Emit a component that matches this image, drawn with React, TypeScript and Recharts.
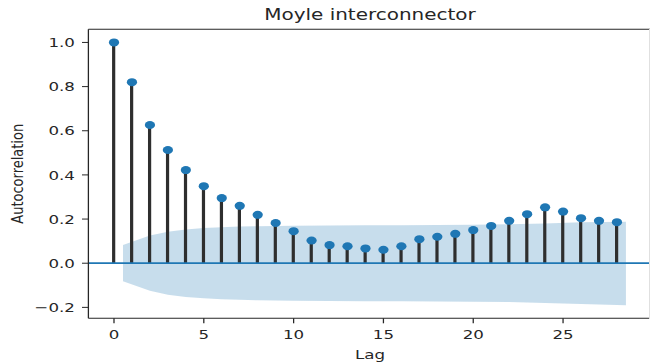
import React from 'react';
import {
  ComposedChart,
  Bar,
  Scatter,
  Area,
  XAxis,
  YAxis,
  ReferenceLine
} from 'recharts';

// autocorrelation per lag
const lags = [0, 1, 2, 3, 4, 5, 6, 7, 8, 9, 10, 11, 12, 13, 14, 15, 16, 17, 18, 19, 20, 21, 22, 23, 24, 25, 26, 27, 28];
const acfValues = [
  1.0, 0.82, 0.626, 0.513, 0.422, 0.349, 0.295, 0.26, 0.219, 0.182,
  0.145, 0.103, 0.082, 0.077, 0.067, 0.061, 0.077, 0.109, 0.12, 0.133,
  0.15, 0.169, 0.192, 0.222, 0.253, 0.234, 0.204, 0.192, 0.186
];

// confidence band
const bandLags = [0.5, 2, 3, 4, 5, 6, 7, 8, 9, 10, 12, 14, 16, 18, 20, 22, 24, 26, 28.5];
const bandUpper = [0.082, 0.125, 0.143, 0.153, 0.159, 0.163, 0.166, 0.168, 0.169, 0.17, 0.171, 0.172, 0.172, 0.173, 0.174, 0.176, 0.18, 0.185, 0.188];
const bandLower = [-0.082, -0.125, -0.143, -0.153, -0.159, -0.163, -0.166, -0.168, -0.169, -0.17, -0.171, -0.172, -0.172, -0.173, -0.174, -0.176, -0.18, -0.185, -0.19];

const xTicks = [0, 5, 10, 15, 20, 25];
const yTicks = [-0.2, 0, 0.2, 0.4, 0.6, 0.8, 1.0];

const X_MIN = -1.425;
const X_MAX = 29.925;
const Y_MIN = -0.2495;
const Y_MAX = 1.0595;

const acfData = lags.map((lag, i) => ({ lag, acf: acfValues[i] }));
const bandData = bandLags.map((lag, i) => ({ lag, band: [bandLower[i], bandUpper[i]] }));

// the reference is stretched sideways, so draw narrower and scale
const STRETCH = 1.28;
const CHART_W = 510;
const CHART_H = 363;
const FONT = '"DejaVu Sans", sans-serif';
const INK = '#262626';
const BLUE = '#1f77b4';

const fmtY = (v: number) => v.toFixed(1).replace('-', '\u2212');

export default function App() {
  return (
    <div style={{ position: 'absolute', left: 0, top: 0, width: 650, height: 363, overflow: 'hidden', background: '#fff' }}>
      <div
        style={{
          position: 'absolute',
          left: 0,
          top: 0,
          width: CHART_W,
          height: CHART_H,
          transform: `scaleX(${STRETCH})`,
          transformOrigin: '0 0',
          fontFamily: FONT
        }}
      >
        <ComposedChart
          width={CHART_W}
          height={CHART_H}
          data={acfData}
          margin={{ top: 29.3, right: 1, bottom: 0, left: 0 }}
        >
          <XAxis
            dataKey="lag"
            type="number"
            domain={[X_MIN, X_MAX]}
            allowDataOverflow
            ticks={xTicks}
            height={44.7}
            tickSize={5}
            tickMargin={6}
            stroke={INK}
            tick={{ fontSize: 13, fill: INK, fontFamily: FONT }}
            label={{ value: 'Lag', position: 'insideBottom', offset: 4, style: { fontSize: 13, fill: INK, fontFamily: FONT } }}
          />
          <YAxis
            type="number"
            domain={[Y_MIN, Y_MAX]}
            allowDataOverflow
            ticks={yTicks}
            width={69.06}
            tickSize={5}
            tickMargin={5.5}
            stroke={INK}
            tickFormatter={fmtY}
            tick={{ fontSize: 13, fill: INK, fontFamily: FONT }}
            label={{
              value: 'Autocorrelation',
              angle: -90,
              position: 'insideLeft',
              offset: 13.4,
              style: { textAnchor: 'middle', fontSize: 13, fill: INK, fontFamily: FONT }
            }}
          />
          <Bar dataKey="acf" barSize={2.5} fill="#2e2e2e" isAnimationActive={false} />
          <Scatter
            data={acfData}
            dataKey="acf"
            isAnimationActive={false}
            shape={(p: any) => <circle cx={p.cx} cy={p.cy} r={4} fill={BLUE} />}
          />
          <Area
            data={bandData}
            dataKey="band"
            type="linear"
            stroke="none"
            fill={BLUE}
            fillOpacity={0.25}
            isAnimationActive={false}
          />
          <ReferenceLine y={0} stroke={BLUE} strokeWidth={1.8} />
          <ReferenceLine y={Y_MAX} stroke={INK} strokeWidth={1} />
        </ComposedChart>
        <div
          style={{
            position: 'absolute',
            left: 69.06,
            width: 440,
            top: 7.5,
            textAlign: 'center',
            fontSize: 15.6,
            lineHeight: '15.6px',
            color: INK,
            whiteSpace: 'nowrap'
          }}
        >
          Moyle interconnector
        </div>
      </div>
      {/* faint right frame edge seen at the image border */}
      <div style={{ position: 'absolute', left: 649, top: 29, width: 1, height: 290, background: '#e0e0e0' }} />
    </div>
  );
}
